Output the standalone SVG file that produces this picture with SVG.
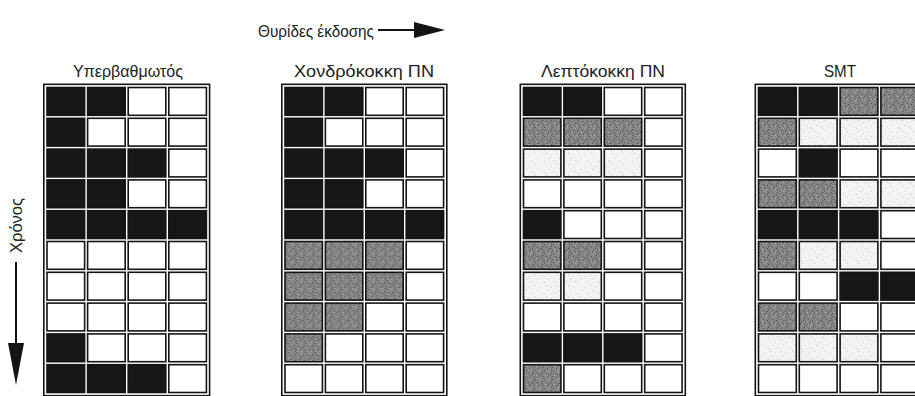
<svg xmlns="http://www.w3.org/2000/svg" width="915" height="396" viewBox="0 0 915 396">
<defs>
<style>
.t{font-family:"Liberation Sans",Arial,sans-serif;font-size:17px;fill:#222}
.c{stroke:#141414;stroke-width:1.6}
.B{fill:#161616}
.W{fill:#ffffff}
.G{fill:url(#dark)}
.L{fill:url(#light)}
.f{fill:none;stroke:#141414;stroke-width:1.6}
</style>
<pattern id="dark" width="9" height="9" patternUnits="userSpaceOnUse">
<rect width="9" height="9" fill="#858585"/>
<rect x="1" y="0" width="1" height="1" fill="#4a4a4a"/><rect x="5" y="1" width="1" height="1" fill="#b5b5b5"/>
<rect x="3" y="2" width="1" height="1" fill="#555"/><rect x="7" y="3" width="1" height="1" fill="#4a4a4a"/>
<rect x="0" y="4" width="1" height="1" fill="#bbb"/><rect x="4" y="5" width="1" height="1" fill="#505050"/>
<rect x="8" y="6" width="1" height="1" fill="#aaa"/><rect x="2" y="7" width="1" height="1" fill="#4d4d4d"/>
<rect x="6" y="8" width="1" height="1" fill="#555"/><rect x="6" y="4" width="1" height="1" fill="#b0b0b0"/>
<rect x="2" y="4" width="1" height="1" fill="#5a5a5a"/><rect x="8" y="1" width="1" height="1" fill="#606060"/>
</pattern>
<pattern id="light" width="11" height="11" patternUnits="userSpaceOnUse">
<rect width="11" height="11" fill="#f3f3f3"/>
<rect x="2" y="1" width="1" height="1" fill="#c4c4c4"/><rect x="7" y="3" width="1" height="1" fill="#cfcfcf"/>
<rect x="4" y="6" width="1" height="1" fill="#c8c8c8"/><rect x="9" y="8" width="1" height="1" fill="#d0d0d0"/>
<rect x="0" y="9" width="1" height="1" fill="#cacaca"/>
</pattern>
</defs>

<g id="title">
<text class="t" x="258" y="37" textLength="116" lengthAdjust="spacingAndGlyphs">Θυρίδες έκδοσης</text>
</g>
<g id="connectors">
<line x1="378" y1="30" x2="418" y2="30" stroke="#141414" stroke-width="2"/>
<polygon points="414,22 445,30 414,38" fill="#141414"/>
<line x1="16" y1="262" x2="16" y2="345" stroke="#141414" stroke-width="2"/>
<polygon points="8,343 24,343 16,385" fill="#141414"/>
</g>
<g id="time-label">
<text class="t" transform="translate(22,253) rotate(-90)" textLength="55" lengthAdjust="spacingAndGlyphs">Χρόνος</text>
</g>

<g id="superscalar">
<text class="t" x="128" y="77" text-anchor="middle" textLength="110" lengthAdjust="spacingAndGlyphs">Υπερβαθμωτός</text>
<g transform="translate(45.5,86)">
<rect class="f" x="-1.7" y="-1.7" width="165.8" height="311.4"/>
<g class="c">
<rect class="B" x="1.5" y="1.5" width="37.6" height="27.8"/><rect class="B" x="42.1" y="1.5" width="37.6" height="27.8"/><rect class="W" x="82.7" y="1.5" width="37.6" height="27.8"/><rect class="W" x="123.3" y="1.5" width="37.6" height="27.8"/>
<rect class="B" x="1.5" y="32.3" width="37.6" height="27.8"/><rect class="W" x="42.1" y="32.3" width="37.6" height="27.8"/><rect class="W" x="82.7" y="32.3" width="37.6" height="27.8"/><rect class="W" x="123.3" y="32.3" width="37.6" height="27.8"/>
<rect class="B" x="1.5" y="63.1" width="37.6" height="27.8"/><rect class="B" x="42.1" y="63.1" width="37.6" height="27.8"/><rect class="B" x="82.7" y="63.1" width="37.6" height="27.8"/><rect class="W" x="123.3" y="63.1" width="37.6" height="27.8"/>
<rect class="B" x="1.5" y="93.9" width="37.6" height="27.8"/><rect class="B" x="42.1" y="93.9" width="37.6" height="27.8"/><rect class="W" x="82.7" y="93.9" width="37.6" height="27.8"/><rect class="W" x="123.3" y="93.9" width="37.6" height="27.8"/>
<rect class="B" x="1.5" y="124.7" width="37.6" height="27.8"/><rect class="B" x="42.1" y="124.7" width="37.6" height="27.8"/><rect class="B" x="82.7" y="124.7" width="37.6" height="27.8"/><rect class="B" x="123.3" y="124.7" width="37.6" height="27.8"/>
<rect class="W" x="1.5" y="155.5" width="37.6" height="27.8"/><rect class="W" x="42.1" y="155.5" width="37.6" height="27.8"/><rect class="W" x="82.7" y="155.5" width="37.6" height="27.8"/><rect class="W" x="123.3" y="155.5" width="37.6" height="27.8"/>
<rect class="W" x="1.5" y="186.3" width="37.6" height="27.8"/><rect class="W" x="42.1" y="186.3" width="37.6" height="27.8"/><rect class="W" x="82.7" y="186.3" width="37.6" height="27.8"/><rect class="W" x="123.3" y="186.3" width="37.6" height="27.8"/>
<rect class="W" x="1.5" y="217.1" width="37.6" height="27.8"/><rect class="W" x="42.1" y="217.1" width="37.6" height="27.8"/><rect class="W" x="82.7" y="217.1" width="37.6" height="27.8"/><rect class="W" x="123.3" y="217.1" width="37.6" height="27.8"/>
<rect class="B" x="1.5" y="247.9" width="37.6" height="27.8"/><rect class="W" x="42.1" y="247.9" width="37.6" height="27.8"/><rect class="W" x="82.7" y="247.9" width="37.6" height="27.8"/><rect class="W" x="123.3" y="247.9" width="37.6" height="27.8"/>
<rect class="B" x="1.5" y="278.7" width="37.6" height="27.8"/><rect class="B" x="42.1" y="278.7" width="37.6" height="27.8"/><rect class="B" x="82.7" y="278.7" width="37.6" height="27.8"/><rect class="W" x="123.3" y="278.7" width="37.6" height="27.8"/>
</g>
</g>
</g>

<g id="coarse-mt">
<text class="t" x="364" y="77" text-anchor="middle" textLength="140" lengthAdjust="spacingAndGlyphs">Χονδρόκοκκη ΠΝ</text>
<g transform="translate(283.5,86)">
<rect class="f" x="-1.7" y="-1.7" width="165" height="311.4"/>
<g class="c">
<rect class="B" x="1.5" y="1.5" width="37.4" height="27.8"/><rect class="B" x="41.9" y="1.5" width="37.4" height="27.8"/><rect class="W" x="82.3" y="1.5" width="37.4" height="27.8"/><rect class="W" x="122.7" y="1.5" width="37.4" height="27.8"/>
<rect class="B" x="1.5" y="32.3" width="37.4" height="27.8"/><rect class="W" x="41.9" y="32.3" width="37.4" height="27.8"/><rect class="W" x="82.3" y="32.3" width="37.4" height="27.8"/><rect class="W" x="122.7" y="32.3" width="37.4" height="27.8"/>
<rect class="B" x="1.5" y="63.1" width="37.4" height="27.8"/><rect class="B" x="41.9" y="63.1" width="37.4" height="27.8"/><rect class="B" x="82.3" y="63.1" width="37.4" height="27.8"/><rect class="W" x="122.7" y="63.1" width="37.4" height="27.8"/>
<rect class="B" x="1.5" y="93.9" width="37.4" height="27.8"/><rect class="B" x="41.9" y="93.9" width="37.4" height="27.8"/><rect class="W" x="82.3" y="93.9" width="37.4" height="27.8"/><rect class="W" x="122.7" y="93.9" width="37.4" height="27.8"/>
<rect class="B" x="1.5" y="124.7" width="37.4" height="27.8"/><rect class="B" x="41.9" y="124.7" width="37.4" height="27.8"/><rect class="B" x="82.3" y="124.7" width="37.4" height="27.8"/><rect class="B" x="122.7" y="124.7" width="37.4" height="27.8"/>
<rect class="G" x="1.5" y="155.5" width="37.4" height="27.8"/><rect class="G" x="41.9" y="155.5" width="37.4" height="27.8"/><rect class="G" x="82.3" y="155.5" width="37.4" height="27.8"/><rect class="W" x="122.7" y="155.5" width="37.4" height="27.8"/>
<rect class="G" x="1.5" y="186.3" width="37.4" height="27.8"/><rect class="G" x="41.9" y="186.3" width="37.4" height="27.8"/><rect class="G" x="82.3" y="186.3" width="37.4" height="27.8"/><rect class="W" x="122.7" y="186.3" width="37.4" height="27.8"/>
<rect class="G" x="1.5" y="217.1" width="37.4" height="27.8"/><rect class="G" x="41.9" y="217.1" width="37.4" height="27.8"/><rect class="W" x="82.3" y="217.1" width="37.4" height="27.8"/><rect class="W" x="122.7" y="217.1" width="37.4" height="27.8"/>
<rect class="G" x="1.5" y="247.9" width="37.4" height="27.8"/><rect class="W" x="41.9" y="247.9" width="37.4" height="27.8"/><rect class="W" x="82.3" y="247.9" width="37.4" height="27.8"/><rect class="W" x="122.7" y="247.9" width="37.4" height="27.8"/>
<rect class="W" x="1.5" y="278.7" width="37.4" height="27.8"/><rect class="W" x="41.9" y="278.7" width="37.4" height="27.8"/><rect class="W" x="82.3" y="278.7" width="37.4" height="27.8"/><rect class="W" x="122.7" y="278.7" width="37.4" height="27.8"/>
</g>
</g>
</g>

<g id="fine-mt">
<text class="t" x="603" y="77" text-anchor="middle" textLength="124" lengthAdjust="spacingAndGlyphs">Λεπτόκοκκη ΠΝ</text>
<g transform="translate(522,86)">
<rect class="f" x="-1.7" y="-1.7" width="165" height="311.4"/>
<g class="c">
<rect class="B" x="1.5" y="1.5" width="37.4" height="27.8"/><rect class="B" x="41.9" y="1.5" width="37.4" height="27.8"/><rect class="W" x="82.3" y="1.5" width="37.4" height="27.8"/><rect class="W" x="122.7" y="1.5" width="37.4" height="27.8"/>
<rect class="G" x="1.5" y="32.3" width="37.4" height="27.8"/><rect class="G" x="41.9" y="32.3" width="37.4" height="27.8"/><rect class="G" x="82.3" y="32.3" width="37.4" height="27.8"/><rect class="W" x="122.7" y="32.3" width="37.4" height="27.8"/>
<rect class="L" x="1.5" y="63.1" width="37.4" height="27.8"/><rect class="L" x="41.9" y="63.1" width="37.4" height="27.8"/><rect class="L" x="82.3" y="63.1" width="37.4" height="27.8"/><rect class="W" x="122.7" y="63.1" width="37.4" height="27.8"/>
<rect class="W" x="1.5" y="93.9" width="37.4" height="27.8"/><rect class="W" x="41.9" y="93.9" width="37.4" height="27.8"/><rect class="W" x="82.3" y="93.9" width="37.4" height="27.8"/><rect class="W" x="122.7" y="93.9" width="37.4" height="27.8"/>
<rect class="B" x="1.5" y="124.7" width="37.4" height="27.8"/><rect class="W" x="41.9" y="124.7" width="37.4" height="27.8"/><rect class="W" x="82.3" y="124.7" width="37.4" height="27.8"/><rect class="W" x="122.7" y="124.7" width="37.4" height="27.8"/>
<rect class="G" x="1.5" y="155.5" width="37.4" height="27.8"/><rect class="G" x="41.9" y="155.5" width="37.4" height="27.8"/><rect class="W" x="82.3" y="155.5" width="37.4" height="27.8"/><rect class="W" x="122.7" y="155.5" width="37.4" height="27.8"/>
<rect class="L" x="1.5" y="186.3" width="37.4" height="27.8"/><rect class="L" x="41.9" y="186.3" width="37.4" height="27.8"/><rect class="W" x="82.3" y="186.3" width="37.4" height="27.8"/><rect class="W" x="122.7" y="186.3" width="37.4" height="27.8"/>
<rect class="W" x="1.5" y="217.1" width="37.4" height="27.8"/><rect class="W" x="41.9" y="217.1" width="37.4" height="27.8"/><rect class="W" x="82.3" y="217.1" width="37.4" height="27.8"/><rect class="W" x="122.7" y="217.1" width="37.4" height="27.8"/>
<rect class="B" x="1.5" y="247.9" width="37.4" height="27.8"/><rect class="B" x="41.9" y="247.9" width="37.4" height="27.8"/><rect class="B" x="82.3" y="247.9" width="37.4" height="27.8"/><rect class="W" x="122.7" y="247.9" width="37.4" height="27.8"/>
<rect class="G" x="1.5" y="278.7" width="37.4" height="27.8"/><rect class="W" x="41.9" y="278.7" width="37.4" height="27.8"/><rect class="W" x="82.3" y="278.7" width="37.4" height="27.8"/><rect class="W" x="122.7" y="278.7" width="37.4" height="27.8"/>
</g>
</g>
</g>

<g id="smt">
<text class="t" x="840" y="77" text-anchor="middle" textLength="32" lengthAdjust="spacingAndGlyphs">SMT</text>
<g transform="translate(757,86)">
<rect class="f" x="-1.7" y="-1.7" width="166.6" height="311.4"/>
<g class="c">
<rect class="B" x="1.5" y="1.5" width="37.8" height="27.8"/><rect class="B" x="42.3" y="1.5" width="37.8" height="27.8"/><rect class="G" x="83.1" y="1.5" width="37.8" height="27.8"/><rect class="G" x="123.9" y="1.5" width="37.8" height="27.8"/>
<rect class="G" x="1.5" y="32.3" width="37.8" height="27.8"/><rect class="L" x="42.3" y="32.3" width="37.8" height="27.8"/><rect class="L" x="83.1" y="32.3" width="37.8" height="27.8"/><rect class="L" x="123.9" y="32.3" width="37.8" height="27.8"/>
<rect class="W" x="1.5" y="63.1" width="37.8" height="27.8"/><rect class="B" x="42.3" y="63.1" width="37.8" height="27.8"/><rect class="W" x="83.1" y="63.1" width="37.8" height="27.8"/><rect class="W" x="123.9" y="63.1" width="37.8" height="27.8"/>
<rect class="G" x="1.5" y="93.9" width="37.8" height="27.8"/><rect class="G" x="42.3" y="93.9" width="37.8" height="27.8"/><rect class="L" x="83.1" y="93.9" width="37.8" height="27.8"/><rect class="L" x="123.9" y="93.9" width="37.8" height="27.8"/>
<rect class="B" x="1.5" y="124.7" width="37.8" height="27.8"/><rect class="B" x="42.3" y="124.7" width="37.8" height="27.8"/><rect class="B" x="83.1" y="124.7" width="37.8" height="27.8"/><rect class="W" x="123.9" y="124.7" width="37.8" height="27.8"/>
<rect class="G" x="1.5" y="155.5" width="37.8" height="27.8"/><rect class="L" x="42.3" y="155.5" width="37.8" height="27.8"/><rect class="L" x="83.1" y="155.5" width="37.8" height="27.8"/><rect class="W" x="123.9" y="155.5" width="37.8" height="27.8"/>
<rect class="W" x="1.5" y="186.3" width="37.8" height="27.8"/><rect class="W" x="42.3" y="186.3" width="37.8" height="27.8"/><rect class="B" x="83.1" y="186.3" width="37.8" height="27.8"/><rect class="B" x="123.9" y="186.3" width="37.8" height="27.8"/>
<rect class="G" x="1.5" y="217.1" width="37.8" height="27.8"/><rect class="G" x="42.3" y="217.1" width="37.8" height="27.8"/><rect class="W" x="83.1" y="217.1" width="37.8" height="27.8"/><rect class="W" x="123.9" y="217.1" width="37.8" height="27.8"/>
<rect class="L" x="1.5" y="247.9" width="37.8" height="27.8"/><rect class="L" x="42.3" y="247.9" width="37.8" height="27.8"/><rect class="L" x="83.1" y="247.9" width="37.8" height="27.8"/><rect class="W" x="123.9" y="247.9" width="37.8" height="27.8"/>
<rect class="W" x="1.5" y="278.7" width="37.8" height="27.8"/><rect class="W" x="42.3" y="278.7" width="37.8" height="27.8"/><rect class="W" x="83.1" y="278.7" width="37.8" height="27.8"/><rect class="W" x="123.9" y="278.7" width="37.8" height="27.8"/>
</g>
</g>
</g>
</svg>
